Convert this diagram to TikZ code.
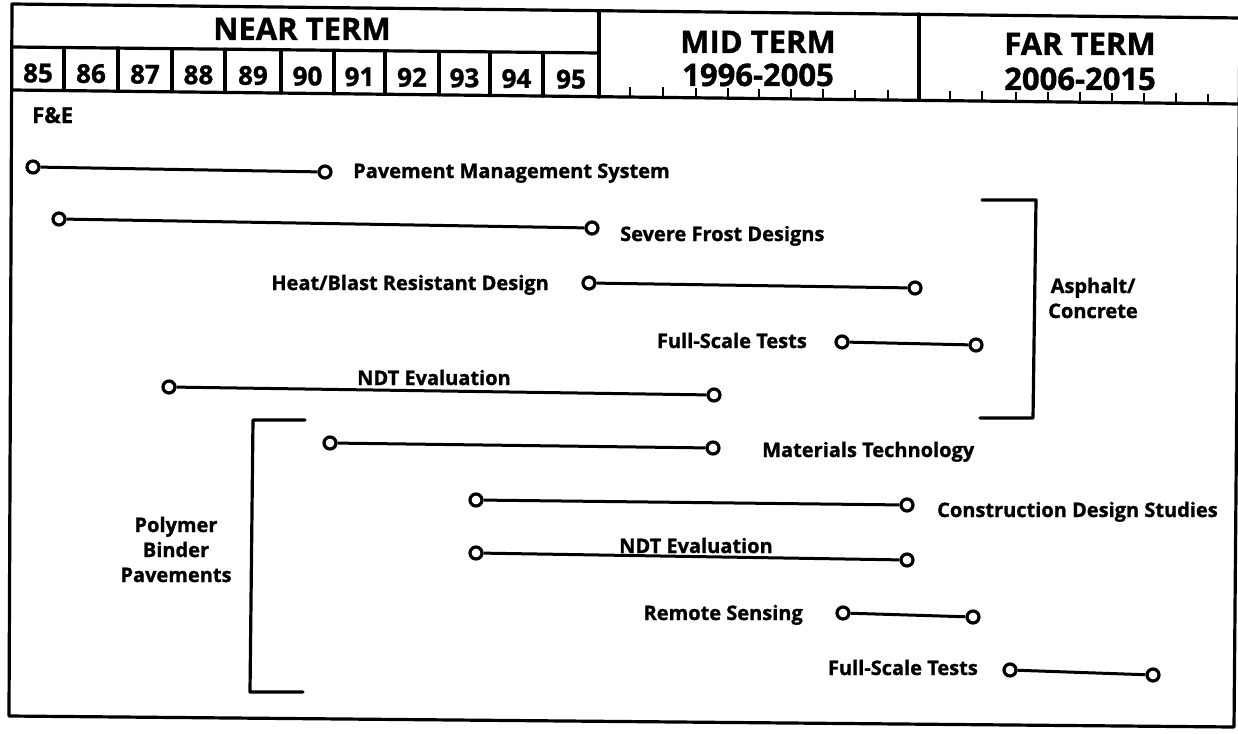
\documentclass[tikz,border=0pt]{standalone}
\usepackage{fontspec}
\setmainfont{Open Sans}[BoldFeatures={FakeBold=1.2}]
\begin{document}
\begin{tikzpicture}[x=1pt,y=-1pt,
  frame/.style={line width=3.2pt, line cap=round, line join=round},
  tl/.style={line width=3pt},
  tickmark/.style={line width=2.4pt},
  dot/.style={circle, draw, line width=3.2pt, minimum size=12pt, inner sep=0pt, fill=white},
  lbl/.style={font=\fontsize{20}{24}\selectfont\bfseries, inner sep=0pt},
  hdr/.style={font=\fontsize{31}{36}\selectfont\bfseries, inner sep=0pt},
  yr/.style={font=\fontsize{26}{30}\selectfont\bfseries, inner sep=0pt}]
\useasboundingbox (0,0) rectangle (1238,733);
% outer frame
\draw[frame] (12,4) -- (1240,18) -- (1234,727) -- (9,716) -- cycle;
% header lines
\draw[frame] (12,47) -- (599,53);
\draw[frame] (12,90) -- (1240,104);
\draw[frame] (599,11) -- (599,97);
\draw[frame] (919,14) -- (919,100);
% year dividers
\foreach \x in {64,118,172,225,281,334,385,439,490,543}
  \draw[frame] (\x,{47+0.0102*(\x-12)}) -- (\x,{90+0.0115*(\x-12)});
% ticks
\foreach \x in {630,663,696,728,759,791,823,855,888,950,982,1016,1048,1080,1112,1144,1176,1208}
  \draw[tickmark] (\x,{90+0.0115*(\x-12)}) -- ++(0,-10);
% header texts
\node[hdr, anchor=base] (near) at (302,40) {NEAR TERM};
\node[hdr, anchor=base] (mid) at (758,53) {MID TERM};
\node[hdr, anchor=base] (midy) at (758,86) {1996-2005};
\node[hdr, anchor=base] (far) at (1080,55) {FAR TERM};
\node[hdr, anchor=base] (fary) at (1080,90) {2006-2015};
\foreach \c/\t in {38/85,91/86,145/87,198.5/88,253/89,307.5/90,359.5/91,412/92,464.5/93,516.5/94,571/95}
  \node[yr, anchor=base] (yr\t) at (\c,{82+0.0115*(\c-12)}) {\t};
\node[lbl, anchor=base west, font=\fontsize{22}{26}\selectfont\bfseries] (fe) at (32,123) {F\&E};
% timelines
\node[dot] (a1) at (33,167) {};
\node[dot] (b1) at (325,172) {};
\draw[tl] (a1) -- (b1);
\node[lbl, anchor=base west] (t1) at (353,178) {Pavement Management System};
\node[dot] (a2) at (59,219) {};
\node[dot] (b2) at (592,228) {};
\draw[tl] (a2) -- (b2);
\node[lbl, anchor=base west] (t2) at (620,241) {Severe Frost Designs};
\node[dot] (a3) at (589,283) {};
\node[dot] (b3) at (915,288) {};
\draw[tl] (a3) -- (b3);
\node[lbl, anchor=base east] (t3) at (549,290) {Heat/Blast Resistant Design};
\node[dot] (a4) at (842,342) {};
\node[dot] (b4) at (976,345) {};
\draw[tl] (a4) -- (b4);
\node[lbl, anchor=base east] (t4) at (807,348) {Full-Scale Tests};
\node[dot] (a5) at (169,387) {};
\node[dot] (b5) at (714,395) {};
\draw[tl] (a5) -- (b5);
\node[lbl, anchor=base] (t5) at (434,385) {NDT Evaluation};
\node[dot] (a6) at (330,443) {};
\node[dot] (b6) at (713,448) {};
\draw[tl] (a6) -- (b6);
\node[lbl, anchor=base west] (t6) at (762,457) {Materials Technology};
\node[dot] (a7) at (476,500) {};
\node[dot] (b7) at (907,505) {};
\draw[tl] (a7) -- (b7);
\node[lbl, anchor=base west] (t7) at (937,517) {Construction Design Studies};
\node[dot] (a8) at (476,553) {};
\node[dot] (b8) at (907,560) {};
\draw[tl] (a8) -- (b8);
\node[lbl, anchor=base] (t8) at (696,553) {NDT Evaluation};
\node[dot] (a9) at (843,613) {};
\node[dot] (b9) at (973,617) {};
\draw[tl] (a9) -- (b9);
\node[lbl, anchor=base east] (t9) at (803,620) {Remote Sensing};
\node[dot] (a10) at (1010,670) {};
\node[dot] (b10) at (1153,675) {};
\draw[tl] (a10) -- (b10);
\node[lbl, anchor=base east] (t10) at (978,675) {Full-Scale Tests};
% brackets
\draw[frame] (982,200) -- (1036,200) -- (1033,418) -- (980,418);
\node[lbl, anchor=base] (asph) at (1093,293) {Asphalt/};
\node[lbl, anchor=base] (conc) at (1093,318) {Concrete};
\draw[frame] (305,420) -- (253,420) -- (250,692) -- (303,692);
\node[lbl, anchor=base] (poly) at (176,532) {Polymer};
\node[lbl, anchor=base] (bind) at (176,557) {Binder};
\node[lbl, anchor=base] (pave) at (176,582) {Pavements};
\end{tikzpicture}
\end{document}
